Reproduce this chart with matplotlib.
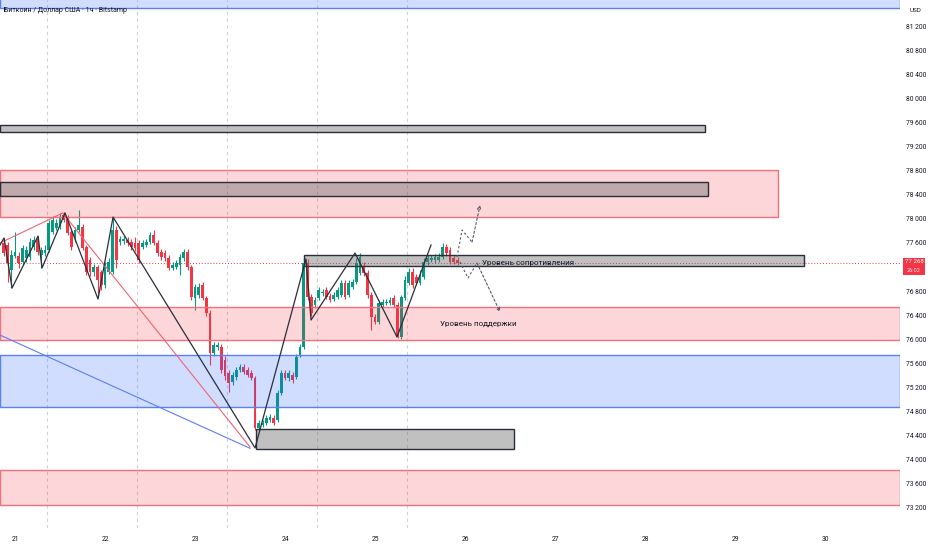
import matplotlib
matplotlib.use("Agg")
import matplotlib.pyplot as plt
import matplotlib.transforms as mtransforms
from matplotlib.patches import Rectangle
from matplotlib import font_manager
import numpy as np

plt.rcParams['font.family'] = ['Roboto', 'DejaVu Sans']
_names = {f.name for f in font_manager.fontManager.ttflist}
LABEL_FAMILY = (['Liberation Sans Narrow', 'Roboto', 'DejaVu Sans']
                if 'Liberation Sans Narrow' in _names else ['Roboto', 'DejaVu Sans'])
LABEL_SIZE = 6.8 if 'Liberation Sans Narrow' in _names else 5.8

# ---------------- data (1h candles, Bitstamp BTC/USD) ----------------
first_candle_day = 21 - 3 / 24.0   # first candle opens at 21:00 on the 20th
opens = [77598,77565,77150,77382,77382,77282,77349,77365,77531,77664,
         77399,77432,77482,77781,77847,77863,78063,78013,77781,77681,
         77814,77863,77531,77316,77116,77199,77116,76901,77116,77116,
         77814,77614,77631,77648,77614,77598,77598,77531,77565,77614,
         77731,77598,77448,77432,77349,77183,77199,77233,77349,77448,
         77199,76685,76735,76901,76685,76436,75772,75871,75871,75656,
         75440,75291,75374,75490,75540,75490,75440,75357,74527,74577,
         74610,74660,74693,74660,75108,75440,75357,75407,75374,75739,
         75871,77266,76701,76569,76685,76768,76818,76718,76668,76701,
         76735,76934,76735,76867,76950,77100,77199,77100,76735,76369,
         76286,76569,76602,76602,76685,76569,76037,76685,76934,77116,
         77033,76934,77033,77282,77316,77316,77316,77365,77531,77482,
         77349,77316]
highs = [77681,77614,77482,77781,77448,77565,77548,77681,77714,77714,
         77531,77565,77980,78046,77996,78096,78112,78063,77814,77863,
         78146,77913,77565,77365,77249,77233,77150,77282,77349,78029,
         77880,77714,77714,77697,77664,77697,77648,77648,77664,77781,
         77814,77648,77498,77482,77399,77282,77316,77415,77498,77498,
         77233,76917,76934,76950,76718,76486,75954,75954,75921,75722,
         75490,75457,75540,75590,75590,75540,75490,75390,74660,74660,
         74742,74759,74742,75158,75490,75490,75490,75457,75755,75921,
         77349,77332,76751,76701,76867,76834,76867,76768,76784,76867,
         76984,76984,76984,77000,77349,77432,77282,77150,76784,76419,
         76652,76668,76668,76701,76735,76618,76735,77050,77183,77183,
         77083,77150,77349,77399,77399,77415,77432,77598,77581,77531,
         77399,77365]
lows = [77382,76950,76851,77349,77183,77233,77282,77316,77482,77399,
        77183,77382,77448,77747,77814,77830,77947,77731,77482,77614,
        77781,77482,77067,77050,77050,76718,76818,76851,77083,77083,
        77183,77565,77581,77548,77482,77465,77266,77498,77531,77581,
        77565,77382,77316,77299,77150,77150,77166,77067,77299,77150,
        76652,76486,76685,76652,76386,75573,75722,75822,75440,75324,
        75125,75241,75324,75457,75424,75374,75324,74494,74494,74543,
        74577,74626,74577,74626,75075,75324,75307,75274,75340,75706,
        75838,76652,76386,76519,76652,76718,76668,76618,76635,76668,
        76701,76668,76701,76834,76917,77067,77050,76685,76154,76253,
        76253,76535,76569,76569,76535,76021,76004,76652,76901,76851,
        76901,76901,77000,77233,77282,77266,77282,77332,77382,77249,
        77249,77233]
closes = [77432,77266,77399,77448,77266,77515,77482,77614,77648,77448,
          77482,77482,77930,77980,77930,78029,77980,77764,77531,77814,
          77897,77515,77116,77116,77199,76984,76901,77199,77282,77814,
          77316,77664,77664,77598,77531,77515,77316,77598,77614,77731,
          77598,77432,77365,77349,77183,77233,77266,77365,77448,77199,
          76701,76867,76867,76685,76436,75772,75905,75905,75490,75390,
          75274,75407,75490,75540,75457,75407,75357,74527,74610,74610,
          74693,74709,74610,75108,75440,75357,75440,75324,75706,75871,
          77266,76701,76436,76652,76818,76784,76701,76652,76735,76818,
          76934,76701,76934,76950,77266,77365,77100,76735,76369,76286,
          76602,76618,76618,76652,76569,76037,76701,76984,77116,76901,
          76934,77033,77282,77349,77349,77365,77365,77531,77432,77282,
          77282,77268]

day_ticks = [21, 22, 23, 24, 25, 26, 27, 28, 29, 30]
price_ticks = [73200, 73600, 74000, 74400, 74800, 75200, 75600, 76000, 76400,
               76800, 77600, 78000, 78400, 78800, 79200, 79600, 80000, 80400,
               80800, 81200]   # 77 200 is hidden behind the price label
session_lines = [21.36, 22.36, 23.36, 24.36, 25.36]
x_range = (20.833, 30.833)
y_range = (72867, 81632)

# zones: (day_start, day_end, price_low, price_high, kind)
zones = [
    (20.833, 30.833, 81499, 81800, 'blue'),
    (20.833, 29.478, 78030, 78810, 'red'),
    (20.833, 30.833, 75988, 76536, 'red'),
    (20.833, 30.833, 74876, 75740, 'blue'),
    (20.833, 30.833, 73250, 73831, 'red'),
]
boxes = [
    (20.833, 28.667, 79441, 79557),
    (20.833, 28.700, 78378, 78611),
    (24.211, 29.767, 77217, 77399),
    (23.678, 26.544, 74179, 74511),
]
zig_days = [20.833, 20.878, 20.967, 21.256, 21.300, 21.556, 21.922, 22.089,
            23.667, 24.233, 24.289, 24.778, 25.244, 25.622]
zig_prices = [77565, 77681, 76851, 77714, 77183, 78096, 76668, 78029,
              74195, 77332, 76320, 77432, 76037, 77565]
red_days = [20.833, 21.530, 23.611]
red_prices = [77598, 78096, 74211]
blue_days = [20.833, 23.611]
blue_prices = [76070, 74190]
up_days = [25.911, 25.967, 26.078, 26.167]
up_prices = [77365, 77814, 77614, 78228]
down_days = [25.944, 26.033, 26.133, 26.389]
down_prices = [77282, 77017, 77266, 76452]

resist_label = (26.189, 77266, 'Уровень сопротивления')
support_label = (25.722, 76253, 'Уровень поддержки')
title = 'Биткоин / Доллар США · 1ч · Bitstamp'
countdown = '26:02'

GREEN = '#089981'
RED = '#f23645'

# ---------------- figure ----------------
fig = plt.figure(figsize=(9.32, 5.5), dpi=100)
ax = fig.add_axes([0, 22 / 550, 900 / 932, 528 / 550])
ax.set_xlim(*x_range)
ax.set_ylim(*y_range)
for s in ax.spines.values():
    s.set_visible(False)

for d in session_lines:
    ax.axvline(d, color='#cfd2d8', lw=0.8, ls=(0, (3, 3)), zorder=1)

# candles
t = first_candle_day + np.arange(len(opens)) / 24.0
o = np.array(opens); h = np.array(highs); l = np.array(lows); c = np.array(closes)
up = c >= o
cols = np.where(up, GREEN, RED)
ax.vlines(t, l, h, colors=cols, lw=0.8, zorder=3)
body_lo = np.minimum(o, c)
body_h = np.maximum(np.abs(c - o), 14)
ax.bar(t, body_h, bottom=body_lo, width=0.75 / 24, color=cols, lw=0, zorder=3)

# current price line
ax.axhline(closes[-1], color=RED, lw=0.7, ls=(0, (1, 2)), zorder=2)

# zones
for d0, d1, p0, p1, kind in zones:
    if kind == 'red':
        fc = (242 / 255, 54 / 255, 69 / 255, 0.2); ec = '#f0707c'
    else:
        fc = (41 / 255, 98 / 255, 255 / 255, 0.21); ec = '#5a80f2'
    ax.add_patch(Rectangle((d0, p0), d1 - d0, p1 - p0, facecolor=fc,
                           edgecolor=ec, lw=1.0, zorder=4))
for d0, d1, p0, p1 in boxes:
    ax.add_patch(Rectangle((d0, p0), d1 - d0, p1 - p0,
                           facecolor=(0.42, 0.42, 0.42, 0.42),
                           edgecolor='#2a2e39', lw=1.0, zorder=5))

# trend lines
ax.plot(blue_days, blue_prices, color='#5b7ef5', lw=0.8, zorder=6)
ax.plot(red_days, red_prices, color='#f2636f', lw=0.8, zorder=6)
ax.plot(zig_days, zig_prices, color='#2a2e39', lw=0.9, zorder=6)

# projections
for dd, pp in [(up_days, up_prices), (down_days, down_prices)]:
    ax.plot(dd[:-1], pp[:-1], color='#55585f', lw=0.8, ls=(0, (2, 2)), zorder=6)
    ax.annotate('', xy=(dd[-1], pp[-1]), xytext=(dd[-2], pp[-2]),
                arrowprops=dict(arrowstyle='->', lw=0.8, color='#55585f',
                                ls=(0, (2, 2)), shrinkA=0, shrinkB=0,
                                mutation_scale=6), zorder=6)

ax.text(resist_label[0], resist_label[1], resist_label[2], fontsize=LABEL_SIZE,
        family=LABEL_FAMILY, color='#131722', va='center', ha='left', zorder=7)
ax.text(support_label[0], support_label[1], support_label[2], fontsize=LABEL_SIZE,
        family=LABEL_FAMILY, color='#131722', va='center', ha='left', zorder=7)

# axes ticks
ax.set_xticks(day_ticks)
ax.set_xticklabels([str(d) for d in day_ticks])
ax.yaxis.tick_right()
ax.set_yticks(price_ticks)
ax.set_yticklabels([f'{p:,}'.replace(',', ' ') for p in price_ticks])
ax.tick_params(axis='both', length=0, labelsize=4.9, colors='#131722')
ax.tick_params(axis='y', pad=4.5)
ax.tick_params(axis='x', pad=6)

# title and labels
fig.text(4 / 932, 1 - 10 / 550, title, fontsize=5.0, color='#131722',
         va='center', ha='left')
fig.text(916 / 932, 1 - 10 / 550, 'USD', fontsize=4.6, color='#131722',
         va='center', ha='center')

# price label box on the scale
blend = mtransforms.blended_transform_factory(fig.transFigure, ax.transData)
yc = closes[-1]
ppx = (y_range[1] - y_range[0]) / 528.0   # price per pixel
fig.patches.append(Rectangle((903 / 932, yc - 12 * ppx), 22 / 932, 17 * ppx,
                             transform=blend, facecolor=RED, edgecolor='none',
                             figure=fig))
fig.text(914 / 932, yc + 1 * ppx, f'{closes[-1]:,}'.replace(',', ' '),
         transform=blend, fontsize=4.4, color='white', va='center', ha='center')
fig.text(914 / 932, yc - 7.5 * ppx, countdown, transform=blend,
         fontsize=4.0, color='#ffe0e3', va='center', ha='center')

fig.savefig('out.png', dpi=100, facecolor='white')
